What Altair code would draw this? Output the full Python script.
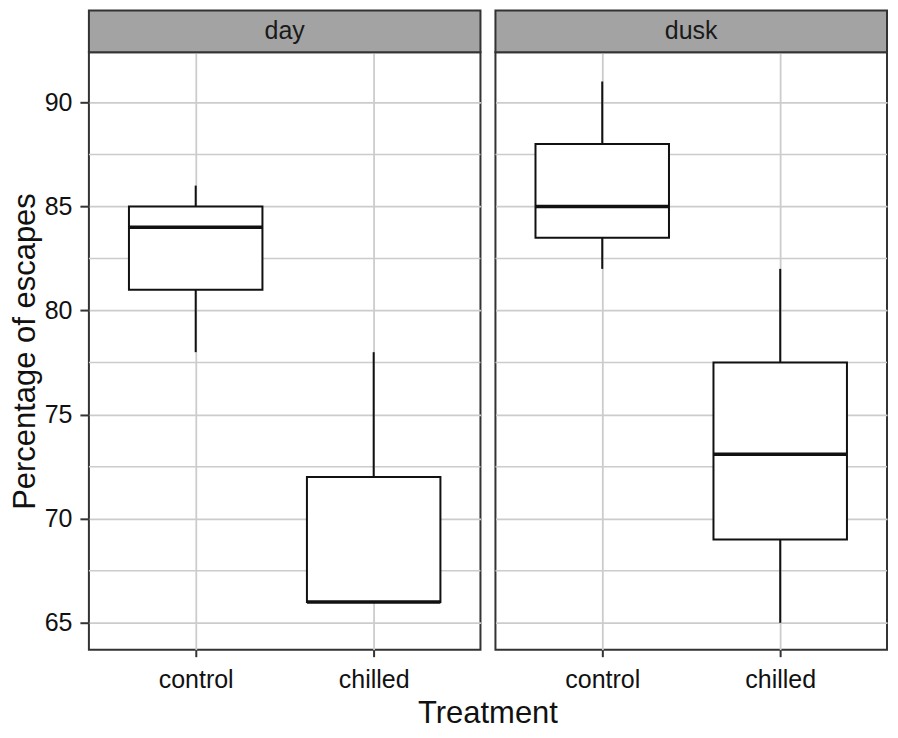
import altair as alt
import pandas as pd

# ---- data ----
panels = ["day", "day", "dusk", "dusk"]
treatments = ["control", "chilled", "control", "chilled"]
positions = [1, 2, 1, 2]
lower = [78, 66, 82, 65]
q1 = [81, 66, 83.5, 69]
median = [84, 66, 85, 73.1]
q3 = [85, 72, 88, 77.5]
upper = [86, 78, 91, 82]

tick_labels = ["control", "chilled"]
major_y = [65, 70, 75, 80, 85, 90]
minor_y = [67.5, 72.5, 77.5, 82.5, 87.5]
panel_names = ["day", "dusk"]

df = pd.DataFrame(dict(panel=panels, treatment=treatments, pos=positions,
                       lower=lower, q1=q1, median=median, q3=q3, upper=upper))

W, H = 392, 598
STRIP = 42
YDOM = [63.71, 92.4]
XDOM = [0.4, 2.6]
FONT = "Liberation Sans"
GRID = "#cccccc"
INK = "#111111"
BORDER = "#333333"
HALF = 0.375

label_expr = " : ".join(
    [f"datum.value == {i + 1} ? '{t}'" for i, t in enumerate(tick_labels[:-1])]
    + [f"'{tick_labels[-1]}'"]
)

xs = alt.Scale(domain=XDOM, nice=False, zero=False)
ys = alt.Scale(domain=YDOM, nice=False, zero=False)


def panel(name, first):
    d = df[df.panel == name]
    xaxis = alt.Axis(values=[1, 2], labelExpr=label_expr, title=None, grid=True,
                     gridColor=GRID, gridWidth=1.8, domain=False, tickSize=7,
                     tickColor=BORDER, tickWidth=2, labelFontSize=25, labelColor=INK,
                     labelPadding=11, labelFont=FONT)
    if first:
        yaxis = alt.Axis(values=major_y, title="Percentage of escapes", grid=True,
                         gridColor=GRID, gridWidth=1.8, domain=False, tickSize=9,
                         tickColor=BORDER, tickWidth=2, labelFontSize=25,
                         labelColor=INK, labelPadding=8, labelFont=FONT,
                         titleFontSize=31, titleFontWeight="normal", titleColor=INK,
                         titleFont=FONT, titlePadding=3)
    else:
        yaxis = alt.Axis(values=major_y, title=None, grid=True, gridColor=GRID,
                         gridWidth=1.8, domain=False, ticks=False, labels=False)

    base = alt.Chart(d).transform_calculate(
        x_lo=f"datum.pos - {HALF}", x_hi=f"datum.pos + {HALF}"
    )
    minor = alt.Chart(pd.DataFrame({"v": minor_y})).mark_rule(
        color=GRID, strokeWidth=1.5
    ).encode(y=alt.Y("v:Q", scale=ys, axis=yaxis))

    wup = base.mark_rule(color=INK, strokeWidth=2).encode(
        x=alt.X("pos:Q", scale=xs, axis=xaxis),
        y=alt.Y("q3:Q", scale=ys, axis=yaxis),
        y2="upper:Q",
    )
    wlo = base.mark_rule(color=INK, strokeWidth=2).encode(
        x=alt.X("pos:Q", scale=xs, axis=xaxis),
        y=alt.Y("lower:Q", scale=ys, axis=yaxis),
        y2="q1:Q",
    )
    box = base.mark_rect(fill="white", stroke=INK, strokeWidth=2).encode(
        x=alt.X("x_lo:Q", scale=xs, axis=xaxis),
        x2="x_hi:Q",
        y=alt.Y("q1:Q", scale=ys, axis=yaxis),
        y2="q3:Q",
    )
    med = base.mark_rule(color=INK, strokeWidth=3.6).encode(
        x=alt.X("x_lo:Q", scale=xs, axis=xaxis),
        x2="x_hi:Q",
        y=alt.Y("median:Q", scale=ys, axis=yaxis),
    )
    sdata = pd.DataFrame({"panel": [name]})
    strip = alt.Chart(sdata).mark_rect(fill="#a3a3a3", stroke=BORDER, strokeWidth=2).encode(
        x=alt.value(0), x2=alt.value(W), y=alt.value(-STRIP), y2=alt.value(0)
    )
    stext = alt.Chart(sdata).mark_text(font=FONT, fontSize=25, color="#1a1a1a",
                                       baseline="middle", align="center").encode(
        x=alt.value(W / 2), y=alt.value(-STRIP / 2), text="panel:N"
    )
    layers = [minor, wup, wlo, box, med, strip, stext]
    if first:
        xt = alt.Chart(pd.DataFrame({"t": ["Treatment"]})).mark_text(
            font=FONT, fontSize=31, color=INK, baseline="alphabetic", align="center"
        ).encode(x=alt.value(W + 7.5), y=alt.value(H + 73), text="t:N")
        layers.append(xt)
    return alt.layer(*layers).properties(width=W, height=H)


chart = alt.hconcat(
    panel(panel_names[0], True), panel(panel_names[1], False),
    spacing=15, bounds="flush"
).properties(
    padding={"left": 0, "top": 0, "right": 1, "bottom": 0},
    background="white",
).configure(
    font=FONT
).configure_view(
    stroke=BORDER, strokeWidth=2
)

chart.save("out.html", embed_options={"renderer": "svg", "actions": False})
